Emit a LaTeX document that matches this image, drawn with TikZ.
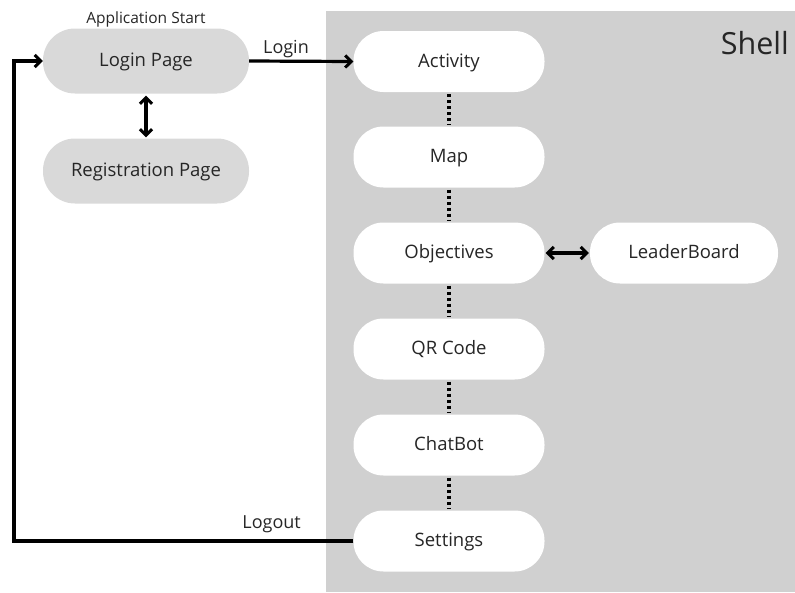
\documentclass[tikz,border=0pt]{standalone}
\usepackage{fontspec}
\setmainfont{Open Sans}
\usetikzlibrary{arrows.meta,positioning,calc}
\definecolor{shellgray}{HTML}{D0D0D0}
\definecolor{pagegray}{HTML}{D9D9D9}
\definecolor{ink}{HTML}{262626}
\tikzset{
  barb/.tip={Straight Barb[length=6pt,width=12pt,line width=3pt]},
  pill/.style={rounded corners=30pt, minimum width=191pt, minimum height=61pt,
    inner sep=0pt, text=ink, text height=1.12em, text depth=0pt,
    font=\fontsize{18.5}{20}\selectfont},
  screen/.style={pill, fill=white},
  page/.style={pill, fill=pagegray, minimum width=206pt, minimum height=65pt, rounded corners=32pt},
  flow/.style={line width=3.2pt, black, -{barb}},
  both/.style={line width=3.2pt, black, {barb}-{barb}},
  link/.style={line width=3.4pt, black, dash pattern=on 3pt off 3pt},
  lbl/.style={text=ink, font=\fontsize{18}{20}\selectfont, inner sep=0pt}
}
\begin{document}
\begin{tikzpicture}[x=1pt,y=-1pt]
  \useasboundingbox (0,0) rectangle (795,592);
  % shell area
  \fill[shellgray] (326,11) rectangle (795,592);
  \node[anchor=base east, text=ink, font=\fontsize{30.5}{33}\selectfont, inner sep=0pt] (shell) at (789,54) {Shell};

  % entry pages
  \node[page] (login) at (146,61) {Login Page};
  \node[page] (reg) at (146,171) {Registration Page};
  \node[lbl, anchor=base, font=\fontsize{15.5}{17}\selectfont] (start) at (146,23) {Application Start};

  % shell screens
  \node[screen] (act) at (449,61.5) {Activity};
  \node[screen] (map) at (449,157) {Map};
  \node[screen] (obj) at (449,253) {Objectives};
  \node[screen] (qr) at (449,349) {QR Code};
  \node[screen] (chat) at (449,445) {ChatBot};
  \node[screen] (set) at (449,541) {Settings};
  \node[screen, minimum width=188pt] (lead) at (684,253) {LeaderBoard};

  % screen chain
  \foreach \a/\b in {act/map, map/obj, obj/qr, qr/chat, chat/set}
    \draw[link] ($(\a.south)+(0,2)$) -- ($(\b.north)+(0,-1)$);

  % arrows
  \draw[both] ($(login.south)+(0,2)$) -- ($(reg.north)+(0,-1)$);
  \draw[both] ($(obj.east)+(1,0)$) -- ($(lead.west)+(-1,0)$);
  \draw[flow] (login.east) -- (act.west);
  \node[lbl, anchor=base] (loginlbl) at (286,53) {Login};
  \coordinate (lb) at (14,541);
  \coordinate (lt) at (14,61);
  \draw[flow, line join=miter] (set.west) -- (lb) -- (lt) -- (login.west);
  \node[lbl, anchor=base east] (logoutlbl) at (301,528) {Logout};
\end{tikzpicture}
\end{document}
